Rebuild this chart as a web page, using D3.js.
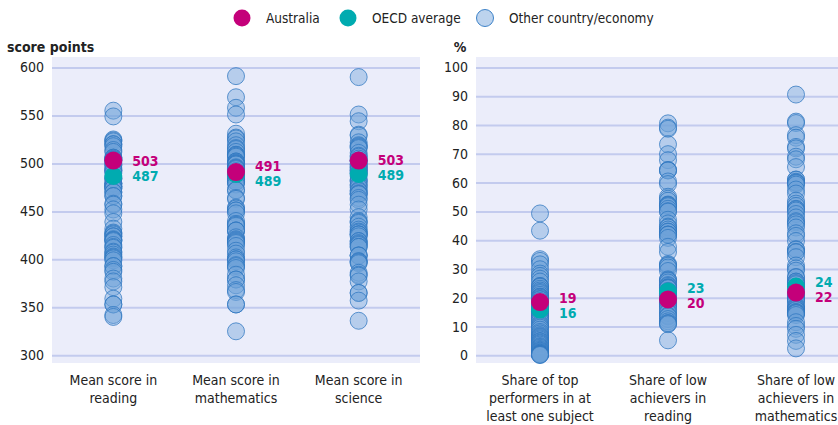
<!DOCTYPE html>
<html>
<head>
<meta charset="utf-8">
<script src="https://cdn.jsdelivr.net/npm/d3@7"></script>
<style>
  body { margin: 0; background: #fff; }
  svg text { font-family: "DejaVu Sans Condensed", "DejaVu Sans", sans-serif; font-stretch: condensed; fill: #222; }
</style>
</head>
<body>
<script>
const width = 838;
const height = 425;

// left panel: mean scores
const scoreCategories = ['Mean score in\nreading', 'Mean score in\nmathematics', 'Mean score in\nscience'];
const scoreTicks = [300, 350, 400, 450, 500, 550, 600];
const scoreAustralia = [503, 491, 503];
const scoreOECD = [487, 489, 489];
const readingOthers = [555, 549, 525, 524, 523, 520, 520, 518, 514, 512, 506, 506, 505, 504, 504, 503, 501, 499, 498, 495, 493, 493, 492, 490, 485, 484, 484, 479, 479, 479, 476, 476, 476, 474, 474, 470, 470, 466, 466, 458, 457, 452, 448, 439, 432, 428, 427, 426, 424, 424, 421, 420, 420, 419, 415, 413, 412, 408, 407, 405, 403, 402, 401, 399, 393, 393, 389, 387, 380, 377, 371, 359, 353, 353, 342, 340];
const mathOthers = [591, 569, 558, 551, 531, 527, 526, 523, 519, 516, 515, 512, 509, 509, 508, 507, 502, 502, 501, 500, 500, 499, 499, 496, 495, 495, 494, 492, 488, 487, 486, 483, 481, 481, 481, 478, 472, 472, 464, 463, 454, 453, 451, 451, 448, 440, 437, 436, 435, 430, 430, 430, 423, 421, 420, 419, 418, 417, 414, 409, 406, 402, 400, 400, 398, 394, 393, 391, 384, 379, 379, 373, 368, 366, 353, 353, 325];
const scienceOthers = [590, 551, 544, 530, 529, 522, 519, 518, 517, 516, 511, 508, 507, 505, 503, 503, 502, 499, 499, 497, 496, 495, 493, 493, 492, 490, 490, 487, 483, 482, 481, 478, 477, 475, 472, 471, 469, 468, 468, 464, 462, 457, 452, 444, 440, 439, 438, 434, 431, 429, 428, 426, 426, 426, 424, 419, 419, 417, 416, 415, 413, 413, 404, 404, 404, 398, 398, 397, 396, 386, 384, 383, 377, 365, 365, 357, 336];

// right panel: shares (%)
const shareCategories = ['Share of top\nperformers in at\nleast one subject', 'Share of low\nachievers in\nreading', 'Share of low\nachievers in\nmathematics'];
const shareTicks = [0, 10, 20, 30, 40, 50, 60, 70, 80, 90, 100];
const shareAustralia = [18.5, 19.4, 21.8];
const shareOECD = [15.9, 22.2, 23.9];
const shareAustraliaLabels = ['19', '20', '22'];
const shareOECDLabels = ['16', '23', '24'];
const topOthers = [49.3, 43.3, 33.4, 32.8, 31.6, 29.9, 28.4, 27.6, 26.6, 25.6, 24.1, 24.0, 23.8, 23.1, 22.5, 22.0, 21.6, 21.0, 20.4, 20.3, 20.0, 19.6, 19.4, 18.9, 18.2, 17.9, 17.5, 16.8, 16.6, 16.0, 15.6, 15.3, 15.1, 14.5, 14.0, 13.6, 12.9, 12.5, 11.8, 11.0, 10.5, 10.1, 9.6, 8.9, 8.1, 7.6, 7.0, 6.6, 6.3, 5.9, 5.5, 5.0, 4.8, 4.4, 4.1, 3.7, 3.2, 2.9, 2.6, 2.2, 1.9, 1.6, 1.4, 1.1, 0.9, 0.7, 0.6, 0.5, 0.4, 0.3, 0.2, 0.1];
const lowReadOthers = [80.6, 79.1, 78.7, 73.3, 69.9, 67.8, 64.4, 64.3, 64.2, 60.4, 59.5, 55.1, 54.4, 53.7, 52.4, 52.2, 52.1, 51.8, 50.9, 50.1, 49.9, 47.1, 45.8, 44.7, 44.4, 43.7, 43.0, 42.9, 42.0, 41.9, 41.9, 40.8, 37.7, 35.9, 31.7, 31.4, 31.1, 30.5, 29.3, 26.4, 26.1, 25.9, 25.3, 24.4, 24.1, 23.6, 23.6, 23.4, 23.3, 22.4, 22.1, 21.6, 21.3, 20.9, 20.7, 20.7, 20.2, 19.3, 19.3, 19.0, 18.4, 17.9, 17.8, 17.3, 16.8, 16.0, 15.1, 14.7, 13.8, 13.5, 12.6, 11.8, 11.2, 11.1, 10.8, 5.2];
const lowMathOthers = [90.6, 81.2, 80.7, 76.5, 75.6, 72.4, 71.9, 69.0, 68.1, 65.4, 61.1, 61.0, 60.3, 60.0, 59.8, 59.3, 57.6, 56.2, 53.7, 52.7, 51.9, 50.9, 50.7, 50.3, 49.1, 47.9, 46.6, 46.2, 45.5, 44.4, 42.4, 41.5, 39.7, 36.9, 36.7, 35.9, 35.8, 34.1, 31.2, 30.2, 29.4, 27.2, 27.1, 25.6, 25.6, 25.1, 24.7, 23.8, 23.3, 21.8, 21.6, 21.3, 21.1, 21.1, 20.7, 20.4, 19.7, 19.2, 18.9, 18.8, 17.3, 16.8, 16.4, 16.3, 15.8, 15.7, 15.0, 15.0, 14.7, 14.6, 14.0, 11.5, 10.2, 9.2, 7.1, 5.0, 2.4];

const colAus = '#c4007a';
const colOECD = '#00abb0';
const bg = '#ebedfa';
const grid = '#c3cbee';

const svg = d3.select('body').append('svg')
  .attr('width', width)
  .attr('height', height);

// legend
const legendItems = [
  { label: 'Australia', x: 242, fill: colAus, stroke: 'none' },
  { label: 'OECD average', x: 348, fill: colOECD, stroke: 'none' },
  { label: 'Other country/economy', x: 485, fill: '#bcd3ee', stroke: '#3d82c8' }
];
const legend = svg.append('g');
legendItems.forEach(d => {
  legend.append('circle')
    .attr('cx', d.x).attr('cy', 18).attr('r', 8.5)
    .attr('fill', d.fill).attr('stroke', d.stroke);
  legend.append('text')
    .attr('x', d.x + 24).attr('y', 18)
    .attr('dominant-baseline', 'central')
    .style('font-size', '13.5px')
    .text(d.label);
});

function panel(opts) {
  const { x0, x1, domain, ticks, categories, others, aus, oecd, ausLabels, oecdLabels, unit, unitX, unitAnchor } = opts;
  const top = 57, bottom = 363;
  const y = d3.scaleLinear().domain(domain).range([355.3, 67.5]);
  const x = d3.scalePoint().domain(categories).range([x0, x1]).padding(0.5);
  const g = svg.append('g');

  g.append('rect')
    .attr('x', x0).attr('y', top)
    .attr('width', x1 - x0).attr('height', bottom - top)
    .attr('fill', bg);

  const axis = g.append('g')
    .attr('transform', `translate(${x0},0)`)
    .call(d3.axisLeft(y).tickValues(ticks).tickSize(-(x1 - x0)).tickPadding(8));
  axis.select('.domain').remove();
  axis.selectAll('.tick line').attr('stroke', grid).attr('stroke-width', 2);
  axis.selectAll('.tick text')
    .style('font-size', '14px')
    .style('fill', '#222')
    .style('font-family', '"DejaVu Sans Condensed", "DejaVu Sans", sans-serif');

  g.append('text')
    .attr('x', unitX).attr('y', 47)
    .attr('dominant-baseline', 'central')
    .attr('text-anchor', unitAnchor)
    .style('font-size', '14px')
    .style('font-weight', 'bold')
    .text(unit);

  categories.forEach((c, i) => {
    const cx = x(c);
    g.append('g').selectAll('circle')
      .data(others[i])
      .join('circle')
      .attr('cx', cx)
      .attr('cy', d => y(d))
      .attr('r', 8.5)
      .attr('fill', '#6ea3da')
      .attr('fill-opacity', 0.42)
      .attr('stroke', '#2f77c0')
      .attr('stroke-opacity', 0.75)
      .attr('stroke-width', 1);

    g.append('circle')
      .attr('cx', cx).attr('cy', y(oecd[i])).attr('r', 9)
      .attr('fill', colOECD);
    g.append('circle')
      .attr('cx', cx).attr('cy', y(aus[i])).attr('r', 9)
      .attr('fill', colAus);

    // value labels, pushed apart when close
    let ya = y(aus[i]), yo = y(oecd[i]);
    if (Math.abs(ya - yo) < 15) {
      const mid = (ya + yo) / 2;
      if (aus[i] >= oecd[i]) { ya = mid - 7.5; yo = mid + 7.5; }
      else { ya = mid + 7.5; yo = mid - 7.5; }
    }
    g.append('text')
      .attr('x', cx + 19).attr('y', ya)
      .attr('dominant-baseline', 'central')
      .style('font-size', '14px').style('font-weight', 'bold')
      .style('fill', colAus)
      .text(ausLabels[i]);
    g.append('text')
      .attr('x', cx + 19).attr('y', yo)
      .attr('dominant-baseline', 'central')
      .style('font-size', '14px').style('font-weight', 'bold')
      .style('fill', colOECD)
      .text(oecdLabels[i]);

    const lab = g.append('text')
      .attr('x', cx).attr('y', 380)
      .attr('text-anchor', 'middle')
      .attr('dominant-baseline', 'central')
      .style('font-size', '14px');
    c.split('\n').forEach((line, k) => {
      lab.append('tspan').attr('x', cx).attr('dy', k === 0 ? 0 : 18).text(line);
    });
  });
}

panel({
  x0: 52, x1: 420, domain: [300, 600], ticks: scoreTicks,
  categories: scoreCategories,
  others: [readingOthers, mathOthers, scienceOthers],
  aus: scoreAustralia, oecd: scoreOECD,
  ausLabels: scoreAustralia.map(String), oecdLabels: scoreOECD.map(String),
  unit: 'score points', unitX: 7, unitAnchor: 'start'
});

panel({
  x0: 476, x1: 860, domain: [0, 100], ticks: shareTicks,
  categories: shareCategories,
  others: [topOthers, lowReadOthers, lowMathOthers],
  aus: shareAustralia, oecd: shareOECD,
  ausLabels: shareAustraliaLabels, oecdLabels: shareOECDLabels,
  unit: '%', unitX: 460, unitAnchor: 'middle'
});
</script>
</body>
</html>
